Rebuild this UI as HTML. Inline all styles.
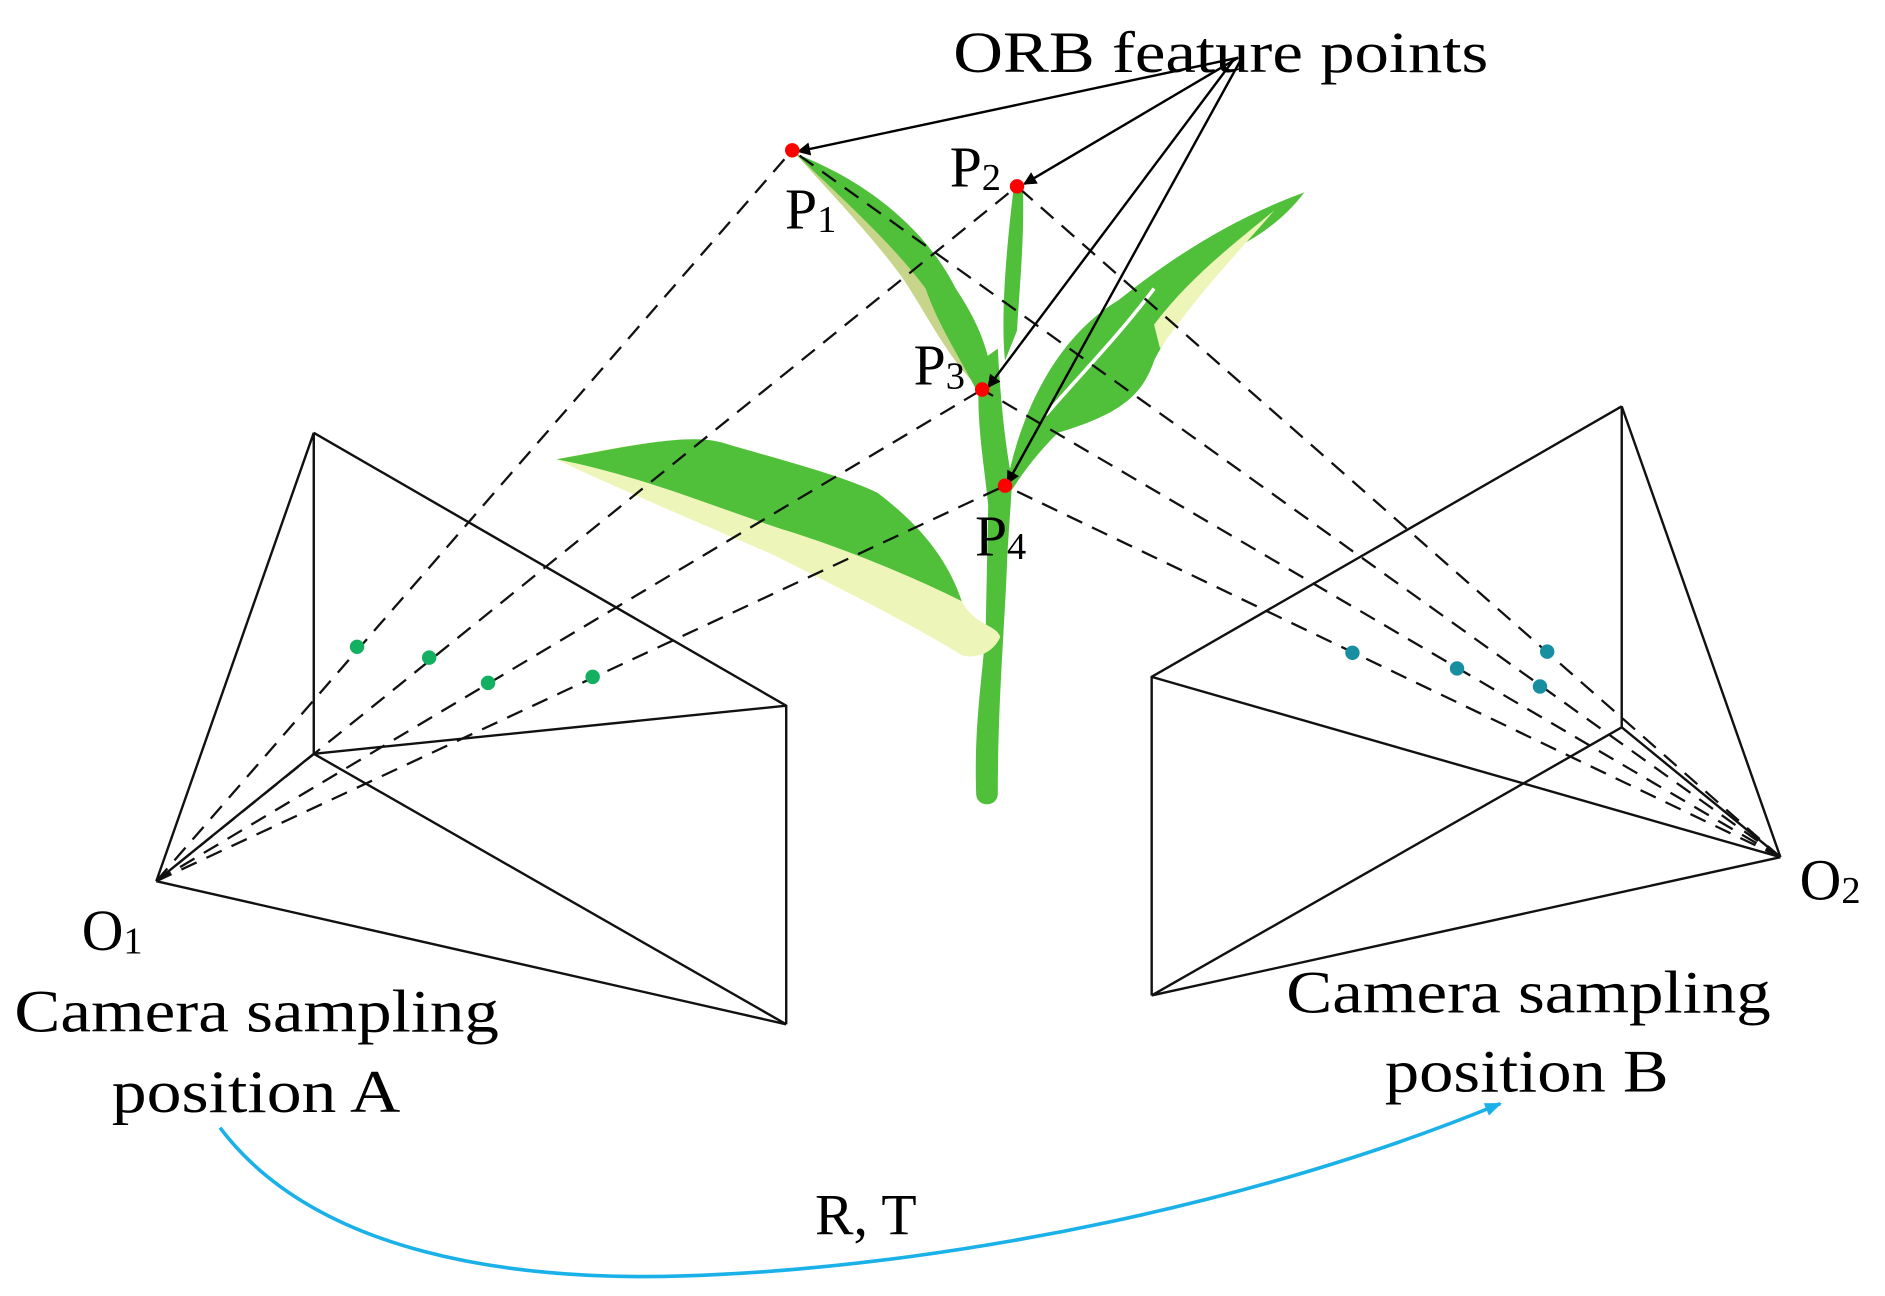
<!DOCTYPE html>
<html><head><meta charset="utf-8"><style>
html,body{margin:0;padding:0;background:#fff;}
svg{display:block;}
text{font-family:"Liberation Serif",serif;fill:#000;}
</style></head><body>
<svg width="1885" height="1296" viewBox="0 0 1568 1078" preserveAspectRatio="none" xmlns="http://www.w3.org/2000/svg">
<defs>
<marker id="ah" viewBox="0 0 10 10" refX="9" refY="5" markerWidth="11" markerHeight="11" orient="auto" markerUnits="userSpaceOnUse"><path d="M0,0 L10,5 L0,10 z" fill="#000"/></marker>
<marker id="ahb" viewBox="0 0 10 10" refX="9" refY="5" markerWidth="14" markerHeight="14" orient="auto" markerUnits="userSpaceOnUse"><path d="M0,1 L10,5 L0,9 z" fill="#1ab0e8"/></marker>
</defs>
<g>
<path d="M812,660 C810,600 818,560 820,520 L822,420 C818,380 810,340 816,300 L830,290 C832,330 836,370 842,400 L838,460 C836,520 830,580 830,660 C830,672 812,672 812,660 Z" fill="#50bf3a"/>
<path d="M843,158 L851,160 C852,200 848,240 846,275 L836,300 C832,260 838,200 843,158 Z" fill="#50bf3a"/>
<path d="M660,126 C700,150 750,190 775,230 C800,265 820,300 822,330 L812,320 C790,300 770,260 750,230 C720,190 690,160 660,126 Z" fill="#c6d58a"/>
<path d="M662,128 C720,150 770,190 795,240 C815,270 828,300 826,340 L815,330 C800,300 780,270 770,240 C740,200 700,165 662,128 Z" fill="#50bf3a"/>
<path d="M838,400 C850,340 880,280 930,250 C980,210 1030,180 1085,160 C1070,180 1050,195 1030,205 C1000,240 975,270 960,300 C950,330 930,345 880,360 C860,380 850,395 840,410 Z" fill="#50bf3a"/>
<path d="M1060,175 C1030,210 1000,240 965,290 L960,270 C990,230 1030,200 1060,175 Z" fill="#eef5b8"/>
<path d="M960,240 C930,280 900,310 870,345" stroke="#fff" stroke-width="3" fill="none"/>
<path d="M463,382 C520,370 570,362 600,368 C640,380 700,395 730,410 C770,440 790,470 800,500 C810,520 830,520 832,530 C825,545 810,548 800,545 C760,520 700,490 640,460 C570,430 500,400 463,382 Z" fill="#eef5b8"/>
<path d="M463,382 C520,372 570,360 600,368 C640,380 700,395 730,410 C770,440 790,470 800,500 C760,480 700,455 650,440 C590,420 530,395 463,382 Z" fill="#50bf3a"/>
</g>
<g stroke="#111" stroke-width="2" fill="none">
<path d="M130,733 L261,360 L261,627 M261,360 L654,587 L654,852 M130,733 L654,852 M261,627 L654,852 M261,627 L654,587 M130,733 L261,627"/>
<path d="M1481,713 L1349,338 L1349,605 M1349,338 L958,563 L958,828 M958,828 L1481,713 M958,563 L1481,713 M958,828 L1349,605 M1349,605 L1481,713"/>
</g>
<g stroke="#111" stroke-width="1.9" fill="none" stroke-dasharray="14,9">
<path d="M130,733 L659,125 M130,733 L846,155 M130,733 L817,324 M130,733 L836,404"/>
<path d="M1481,713 L659,125 M1481,713 L846,155 M1481,713 L817,324 M1481,713 L836,404"/>
</g>
<g fill="#12b060">
<circle cx="297" cy="538" r="6"/><circle cx="357" cy="547" r="6"/><circle cx="406" cy="568" r="6"/><circle cx="493" cy="563" r="6"/>
</g>
<g fill="#188fa0">
<circle cx="1125" cy="543" r="6"/><circle cx="1212" cy="556" r="6"/><circle cx="1281" cy="571" r="6"/><circle cx="1287" cy="542" r="6"/>
</g>
<g stroke="#000" stroke-width="2" fill="none" marker-end="url(#ah)">
<path d="M1030,48 L664,126"/>
<path d="M1030,48 L852,153"/>
<path d="M1026,50 L822,322"/>
<path d="M1032,50 L838,402"/>
</g>
<g fill="#f00">
<circle cx="659" cy="125" r="6"/><circle cx="846" cy="155" r="6"/><circle cx="817" cy="324" r="6"/><circle cx="836" cy="404" r="6"/>
</g>
<text x="793" y="60" font-size="48" textLength="445" lengthAdjust="spacingAndGlyphs">ORB feature points</text>
<text x="653" y="190" font-size="48">P<tspan font-size="32" dy="3">1</tspan></text>
<text x="790" y="155" font-size="48">P<tspan font-size="32" dy="3">2</tspan></text>
<text x="760" y="320" font-size="48">P<tspan font-size="32" dy="3">3</tspan></text>
<text x="811" y="462" font-size="48">P<tspan font-size="32" dy="3">4</tspan></text>
<text x="68" y="790" font-size="48">O<tspan font-size="32" dy="3">1</tspan></text>
<text x="1497" y="748" font-size="48">O<tspan font-size="32" dy="3">2</tspan></text>
<text x="12" y="858" font-size="50" textLength="403" lengthAdjust="spacingAndGlyphs">Camera sampling</text>
<text x="93" y="925" font-size="50" textLength="240" lengthAdjust="spacingAndGlyphs">position A</text>
<text x="1070" y="842" font-size="50" textLength="403" lengthAdjust="spacingAndGlyphs">Camera sampling</text>
<text x="1152" y="908" font-size="50" textLength="236" lengthAdjust="spacingAndGlyphs">position B</text>
<text x="678" y="1027" font-size="48">R, T</text>
<path d="M183,938 C260,1040 420,1070 600,1060 C800,1050 1050,1000 1248,918" stroke="#1ab0e8" stroke-width="3" fill="none" marker-end="url(#ahb)"/>
</svg>
</body></html>
